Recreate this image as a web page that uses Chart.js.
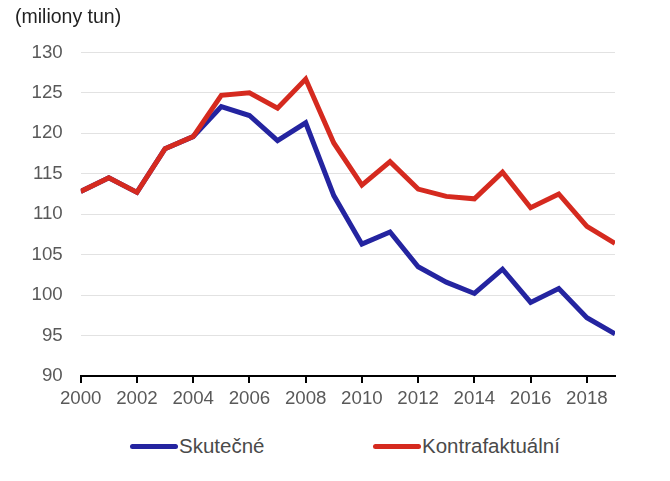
<!DOCTYPE html>
<html>
<head>
<meta charset="utf-8">
<script src="https://cdn.jsdelivr.net/npm/chart.js@4/dist/chart.umd.min.js"></script>
<style>
    body { margin: 0; background: #fff; font-family: "Liberation Sans", Arial, sans-serif; }
    #wrap { position: relative; width: 670px; height: 481px; }
    #box { position: absolute; left: 0; top: 0; width: 670px; height: 420px; }
    .leg { position: absolute; top: 434px; height: 24px; line-height: 24px; font-size: 20.5px; color: #4a4a4a; display: flex; align-items: center; }
    .leg span.bar { display: inline-block; width: 48px; height: 5px; border-radius: 3px; margin-right: 1px; }
</style>
</head>
<body>
<div id="wrap">
    <div id="box"><canvas id="chart"></canvas></div>
    <div class="leg" style="left:130px"><span class="bar" style="background:#2424a0"></span>Skutečné</div>
    <div class="leg" style="left:373px"><span class="bar" style="background:#d52a1f"></span>Kontrafaktuální</div>
</div>
<script>
const years = [2000, 2001, 2002, 2003, 2004, 2005, 2006, 2007, 2008, 2009,
               2010, 2011, 2012, 2013, 2014, 2015, 2016, 2017, 2018, 2019];
const skutecne = [112.8, 114.5, 112.7, 118.1, 119.6, 123.3, 122.2, 119.1, 121.3, 112.3,
                  106.3, 107.8, 103.5, 101.6, 100.2, 103.2, 99.1, 100.8, 97.2, 95.2];
const kontrafaktualni = [112.8, 114.5, 112.7, 118.1, 119.6, 124.7, 125.0, 123.1, 126.7, 118.8,
                         113.6, 116.5, 113.1, 112.2, 111.9, 115.2, 110.8, 112.5, 108.5, 106.4];

const ctx = document.getElementById('chart').getContext('2d');
const tickFont = { family: 'Liberation Sans', size: 18.7 };

new Chart(ctx, {
    type: 'line',
    data: {
        datasets: [
            {
                label: 'Kontrafaktuální',
                data: years.map((y, i) => ({ x: y, y: kontrafaktualni[i] })),
                borderColor: '#d52a1f',
                borderWidth: 5,
                pointRadius: 0,
                tension: 0,
                fill: false
            },
            {
                label: 'Skutečné',
                data: years.map((y, i) => ({ x: y, y: skutecne[i] })),
                borderColor: '#2424a0',
                borderWidth: 5,
                pointRadius: 0,
                tension: 0,
                fill: false
            }
        ]
    },
    options: {
        responsive: true,
        maintainAspectRatio: false,
        animation: false,
        layout: { padding: { left: 15, right: 55, top: 6, bottom: 9.6 } },
        plugins: {
            legend: { display: false },
            tooltip: { enabled: false },
            title: {
                display: true,
                text: '(miliony tun)',
                align: 'start',
                color: '#222',
                font: { family: 'Liberation Sans', size: 19.5, weight: 'normal' },
                padding: { top: 0, bottom: 23 }
            }
        },
        scales: {
            x: {
                type: 'linear',
                min: 2000,
                max: 2019,
                afterFit: (scale) => { scale.height = 7 + 5 + 22.4; },
                grid: { drawOnChartArea: false, drawTicks: true, tickLength: 7, color: '#000', lineWidth: 2 },
                border: { color: '#000', width: 2 },
                ticks: {
                    stepSize: 2,
                    includeBounds: false,
                    maxRotation: 0,
                    padding: 5,
                    color: '#595959',
                    font: tickFont,
                    callback: (v) => String(v)
                }
            },
            y: {
                min: 90,
                max: 130,
                afterFit: (scale) => { scale.width = 65.7; },
                grid: { color: '#e2e2e2', lineWidth: 1, drawTicks: false },
                border: { display: false },
                ticks: {
                    stepSize: 5,
                    padding: 18,
                    color: '#595959',
                    font: tickFont
                }
            }
        }
    }
});
</script>
</body>
</html>
